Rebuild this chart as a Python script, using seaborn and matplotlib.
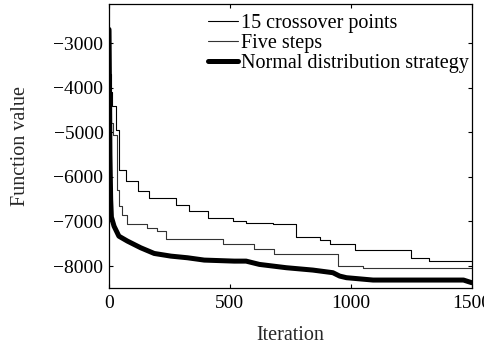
import matplotlib
matplotlib.use("Agg")
import matplotlib.pyplot as plt
import numpy as np
import pandas as pd
import seaborn as sns

# ---- data ----
cross15_x = [0, 3, 6, 9, 14, 28, 41, 69, 118, 166, 277, 332, 408, 511, 567, 677,
             774, 871, 912, 1019, 1251, 1325, 1500]
cross15_y = [-2700, -3200, -3700, -4100, -4400, -4940, -5850, -6100, -6320, -6470,
             -6620, -6770, -6930, -6990, -7030, -7068, -7344, -7419, -7510, -7650,
             -7814, -7890, -7890]

five_x = [0, 3, 6, 10, 16, 33, 42, 55, 76, 159, 200, 235, 470, 601, 684, 947,
          1051, 1500]
five_y = [-2700, -3400, -4200, -4800, -5050, -6300, -6660, -6845, -7068, -7143,
          -7218, -7390, -7500, -7613, -7740, -8000, -8053, -8053]

normal_x = [0, 2, 4, 7, 10, 21, 41, 76, 131, 187, 256, 325, 394, 518, 567, 622,
            733, 843, 926, 954, 982, 1092, 1466, 1500]
normal_y = [-2690, -4000, -5500, -6500, -6900, -7106, -7330, -7440, -7590, -7718,
            -7778, -7815, -7867, -7890, -7890, -7964, -8038, -8091, -8150, -8226,
            -8262, -8315, -8315, -8374]

labels = ["15 crossover points", "Five steps", "Normal distribution strategy"]

df_cross = pd.DataFrame({"Iteration": cross15_x, "Function value": cross15_y})
df_five = pd.DataFrame({"Iteration": five_x, "Function value": five_y})
df_norm = pd.DataFrame({"Iteration": normal_x, "Function value": normal_y})

# ---- style ----
sns.set_theme(style="ticks")
plt.rcParams["font.family"] = ["Liberation Serif", "DejaVu Serif"]
plt.rcParams["axes.unicode_minus"] = True

fig = plt.figure(figsize=(4.85, 3.54), dpi=100)
ax = fig.add_axes([0.2247, 0.1856, 0.7479, 0.8031])

sns.lineplot(data=df_cross, x="Iteration", y="Function value", ax=ax,
             color="black", linewidth=0.8, drawstyle="steps-post",
             label=labels[0], estimator=None, sort=False)
sns.lineplot(data=df_five, x="Iteration", y="Function value", ax=ax,
             color="#333333", linewidth=0.8, drawstyle="steps-post",
             label=labels[1], estimator=None, sort=False)
sns.lineplot(data=df_norm, x="Iteration", y="Function value", ax=ax,
             color="black", linewidth=3.6, label=labels[2],
             estimator=None, sort=False)

ax.set_xlim(0, 1500)
ax.set_ylim(-8500, -2120)
ax.set_xticks([0, 500, 1000, 1500])
ax.set_yticks(np.arange(-8000, -2999, 1000))

ax.tick_params(direction="in", top=True, right=True, length=3, width=0.8,
               labelsize=14, colors="black")
ax.tick_params(axis="x", pad=5)
ax.tick_params(axis="y", pad=4)
for s in ax.spines.values():
    s.set_linewidth(0.9)
    s.set_color("black")

ax.set_xlabel("Iteration", fontsize=14.5, labelpad=10)
ax.set_ylabel("Function value", fontsize=14.5, labelpad=17)

leg = ax.legend(loc="upper right", bbox_to_anchor=(0.997, 0.972), frameon=False,
                fontsize=14.5, handlelength=1.5, handletextpad=0.12,
                labelspacing=0.05, borderaxespad=0.0, borderpad=0.1)
for t in leg.get_texts():
    t.set_color("black")

fig.savefig("out.png", dpi=100)
